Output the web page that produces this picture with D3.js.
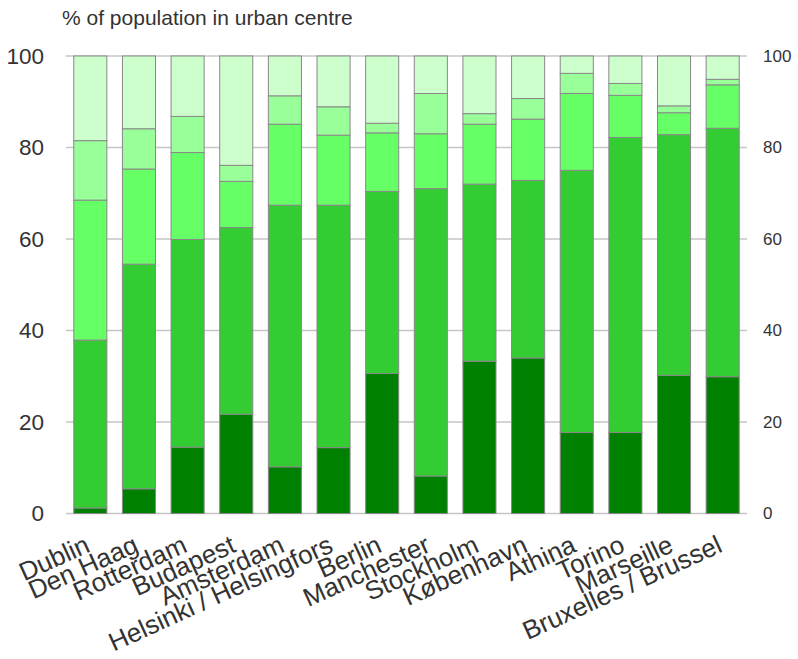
<!DOCTYPE html>
<html>
<head>
<meta charset="utf-8">
<script src="https://cdn.jsdelivr.net/npm/d3@7"></script>
<style>
body{margin:0;background:#fff;}
svg{display:block;font-family:"Liberation Sans",Arial,sans-serif;}
</style>
</head>
<body>
<svg id="chart" width="798" height="659"></svg>
<script>
const categories = ["Dublin","Den Haag","Rotterdam","Budapest","Amsterdam","Helsinki / Helsingfors","Berlin","Manchester","Stockholm","København","Athina","Torino","Marseille","Bruxelles / Brussel"];
const series1 = [1.2, 5.4, 14.5, 21.7, 10.2, 14.4, 30.6, 8.2, 33.3, 34.0, 17.7, 17.7, 30.2, 29.9];
const series2 = [36.7, 49.1, 45.4, 40.8, 57.2, 53.0, 39.8, 62.8, 38.7, 38.8, 57.3, 64.5, 52.6, 54.3];
const series3 = [30.6, 20.8, 19.0, 10.1, 17.7, 15.3, 12.8, 12.0, 13.1, 13.4, 16.8, 9.2, 4.8, 9.5];
const series4 = [13.0, 8.8, 7.9, 3.5, 6.2, 6.2, 2.1, 8.8, 2.3, 4.5, 4.4, 2.6, 1.5, 1.2];
const series5 = [18.5, 15.9, 13.2, 23.9, 8.7, 11.1, 14.7, 8.2, 12.6, 9.3, 3.8, 6.0, 10.9, 5.1];
const yTicks = [0, 20, 40, 60, 80, 100];
const title = "% of population in urban centre";
const colors = ["#008000", "#33cc33", "#66ff66", "#99ff99", "#ccffcc"];

(function(){
const seriesKeys = ["s1","s2","s3","s4","s5"];
const allSeries = [series1, series2, series3, series4, series5];
const table = categories.map((c, i) => {
  const row = {cat: c};
  seriesKeys.forEach((k, j) => row[k] = allSeries[j][i]);
  return row;
});

const svg = d3.select("#chart");
const pLeft = 66, pRight = 747, pTop = 56, pBottom = 513.5;

const x = d3.scaleBand().domain(categories).range([pLeft, pRight]).paddingInner(0.32).paddingOuter(0.16);
const y = d3.scaleLinear().domain([0, 100]).range([pBottom, pTop]);

// gridlines
svg.append("g").selectAll("line").data(yTicks).join("line")
  .attr("x1", pLeft).attr("x2", pRight)
  .attr("y1", d => y(d)).attr("y2", d => y(d))
  .attr("stroke", "#c6c6c6").attr("stroke-width", 1.6);

// stacked bars
const stacked = d3.stack().keys(seriesKeys)(table);
svg.append("g").selectAll("g").data(stacked).join("g")
  .attr("fill", (d, i) => colors[i])
  .selectAll("rect").data(d => d).join("rect")
  .attr("x", d => x(d.data.cat))
  .attr("width", x.bandwidth())
  .attr("y", d => y(d[1]))
  .attr("height", d => y(d[0]) - y(d[1]))
  .attr("stroke", "#888").attr("stroke-width", 1);

// left axis
const gL = svg.append("g").attr("transform", `translate(${pLeft - 22},0)`)
  .call(d3.axisLeft(y).tickValues(yTicks).tickSize(0).tickPadding(0));
gL.select(".domain").remove();
gL.selectAll("text").attr("font-size", 22.5).attr("fill", "#333").attr("font-family", "Liberation Sans, Arial, sans-serif");

// right axis
const gR = svg.append("g").attr("transform", `translate(${pRight + 16},0)`)
  .call(d3.axisRight(y).tickValues(yTicks).tickSize(0).tickPadding(0));
gR.select(".domain").remove();
gR.selectAll("text").attr("font-size", 17).attr("fill", "#333").attr("font-family", "Liberation Sans, Arial, sans-serif");

// x labels
svg.append("g").selectAll("text").data(categories).join("text")
  .attr("transform", d => `translate(${x(d) + x.bandwidth()/2 + 1},551) rotate(-24.5)`)
  .attr("text-anchor", "end")
  .attr("font-size", 26)
  .attr("fill", "#333")
  .text(d => d);

// title
svg.append("text").attr("x", 62).attr("y", 25)
  .attr("font-size", 21).attr("fill", "#333")
  .text(title);
})();
</script>
</body>
</html>
